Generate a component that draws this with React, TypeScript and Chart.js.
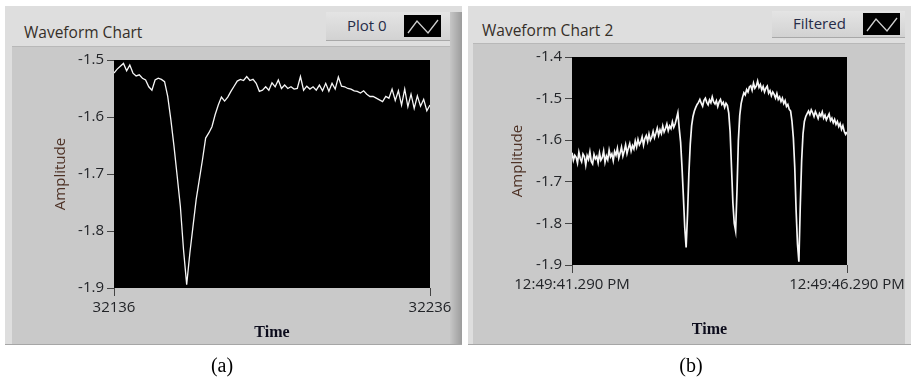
import React, { useEffect, useRef } from "react";
import { Chart, registerables } from "chart.js";

Chart.register(...registerables);

// ---------- data ----------
const titleA = "Waveform Chart";
const titleB = "Waveform Chart 2";
const legendA = "Plot 0";
const legendB = "Filtered";
const yAxisTitle = "Amplitude";
const xAxisTitle = "Time";
const captions = ["(a)", "(b)"];

const xStartA = 32136;
const xEndA = 32236;
const xTickLabelsA = ["32136", "32236"];
const yTicksA = [-1.9, -1.8, -1.7, -1.6, -1.5];
const valuesA = [
  -1.523, -1.516, -1.511, -1.506, -1.519, -1.509, -1.523, -1.528, -1.526, -1.532,
  -1.535, -1.547, -1.553, -1.535, -1.532, -1.534, -1.538, -1.564, -1.605, -1.652,
  -1.704, -1.757, -1.833, -1.894, -1.839, -1.792, -1.745, -1.71, -1.675, -1.637,
  -1.628, -1.617, -1.596, -1.579, -1.565, -1.572, -1.565, -1.555, -1.546, -1.537,
  -1.534, -1.536, -1.529, -1.536, -1.534, -1.541, -1.555, -1.553, -1.547, -1.553,
  -1.54, -1.547, -1.535, -1.55, -1.544, -1.55, -1.547, -1.551, -1.55, -1.529,
  -1.553, -1.546, -1.551, -1.547, -1.553, -1.544, -1.554, -1.541, -1.555, -1.541,
  -1.551, -1.53, -1.546, -1.547, -1.55, -1.551, -1.554, -1.555, -1.558, -1.554,
  -1.56, -1.564, -1.564, -1.567, -1.57, -1.573, -1.564, -1.567, -1.551, -1.571,
  -1.554, -1.579, -1.551, -1.582, -1.56, -1.585, -1.563, -1.581, -1.569, -1.589,
  -1.579,
];

const durationB = 5; // seconds between the two time ticks
const xTickLabelsB = ["12:49:41.290 PM", "12:49:46.290 PM"];
const yTicksB = [-1.9, -1.8, -1.7, -1.6, -1.5, -1.4];
const valuesB = [
  -1.63, -1.648, -1.636, -1.641, -1.655, -1.629, -1.644, -1.652, -1.633, -1.639,
  -1.66, -1.637, -1.646, -1.628, -1.651, -1.657, -1.634, -1.645, -1.639, -1.654,
  -1.631, -1.648, -1.642, -1.626, -1.653, -1.638, -1.647, -1.624, -1.64, -1.633,
  -1.649, -1.627, -1.636, -1.62, -1.643, -1.631, -1.617, -1.638, -1.626, -1.611,
  -1.632, -1.619, -1.608, -1.626, -1.613, -1.621, -1.602, -1.616, -1.598, -1.611,
  -1.604, -1.592, -1.612, -1.596, -1.589, -1.603, -1.585, -1.6, -1.593, -1.579,
  -1.594, -1.583, -1.571, -1.588, -1.575, -1.584, -1.566, -1.58, -1.572, -1.561,
  -1.577, -1.566, -1.572, -1.556, -1.569, -1.561, -1.548, -1.534, -1.572, -1.605,
  -1.665, -1.735, -1.81, -1.858, -1.78, -1.68, -1.61, -1.565, -1.543, -1.53,
  -1.521, -1.514, -1.509, -1.502, -1.511, -1.518, -1.504, -1.499, -1.509, -1.515,
  -1.503, -1.51, -1.496, -1.508, -1.513, -1.505, -1.519, -1.508, -1.502, -1.514,
  -1.509, -1.521, -1.511, -1.516, -1.535, -1.58, -1.665, -1.75, -1.8, -1.818,
  -1.72, -1.6, -1.54, -1.512, -1.497, -1.486, -1.491, -1.478, -1.484, -1.472,
  -1.469, -1.48, -1.463, -1.475, -1.47, -1.458, -1.473, -1.466, -1.479, -1.471,
  -1.484, -1.475, -1.47, -1.487, -1.481, -1.493, -1.484, -1.49, -1.499, -1.488,
  -1.502, -1.496, -1.507, -1.499, -1.512, -1.505, -1.519, -1.514, -1.526, -1.53,
  -1.555, -1.595, -1.665, -1.77, -1.85, -1.892, -1.76, -1.65, -1.585, -1.555,
  -1.543, -1.536, -1.53, -1.538, -1.527, -1.534, -1.543, -1.531, -1.539, -1.548,
  -1.536, -1.542, -1.532, -1.547, -1.54, -1.551, -1.544, -1.537, -1.553, -1.547,
  -1.558, -1.55, -1.562, -1.555, -1.567, -1.56, -1.574, -1.565, -1.579, -1.586,
  -1.58,
];

// ---------- chart helpers ----------
const W = 911;
const H = 379;
const SANS = "'Open Sans', 'Noto Sans', sans-serif";
const SERIF = "'Liberation Serif', 'DejaVu Serif', serif";

const blackArea = {
  id: "blackArea",
  beforeDraw(chart: any) {
    const { ctx, chartArea: a } = chart;
    ctx.save();
    ctx.fillStyle = "#000";
    ctx.fillRect(a.left, a.top, a.right - a.left, a.bottom - a.top);
    ctx.restore();
  },
};

function buildConfig(o: {
  points: { x: number; y: number }[];
  xMin: number;
  xMax: number;
  xLabels: string[];
  yTicks: number[];
  pad: { left: number; right: number; top: number; bottom: number };
  yWidth: number;
  xHeight: number;
  lineWidth: number;
}): any {
  const yMin = o.yTicks[0];
  const yMax = o.yTicks[o.yTicks.length - 1];
  return {
    type: "line",
    data: {
      datasets: [
        {
          data: o.points,
          borderColor: "#f6f6f6",
          borderWidth: o.lineWidth,
          pointRadius: 0,
          tension: 0,
          fill: false,
        },
      ],
    },
    plugins: [blackArea],
    options: {
      animation: false,
      responsive: false,
      events: [],
      layout: { padding: o.pad },
      plugins: { legend: { display: false }, tooltip: { enabled: false } },
      scales: {
        x: {
          type: "linear",
          min: o.xMin,
          max: o.xMax,
          afterBuildTicks: (s: any) => {
            s.ticks = [{ value: o.xMin }, { value: o.xMax }];
          },
          afterFit: (s: any) => {
            s.height = o.xHeight;
          },
          ticks: {
            autoSkip: false,
            maxRotation: 0,
            padding: 3,
            color: "#222428",
            font: { family: SANS, size: 15 },
            callback: (_v: any, i: number) => o.xLabels[i],
          },
          grid: { drawOnChartArea: false, drawTicks: true, tickLength: 8, color: "#444" },
          border: { display: false },
          title: {
            display: true,
            text: xAxisTitle,
            color: "#0c0c1c",
            padding: 0,
            font: { family: SERIF, size: 16, weight: "bold" },
          },
        },
        y: {
          type: "linear",
          min: yMin,
          max: yMax,
          afterBuildTicks: (s: any) => {
            s.ticks = o.yTicks.map((v) => ({ value: v }));
          },
          afterFit: (s: any) => {
            s.width = o.yWidth;
          },
          ticks: {
            padding: 3,
            color: "#222428",
            font: { family: SANS, size: 15 },
            callback: (v: any) => Number(v).toFixed(1),
          },
          grid: { drawOnChartArea: false, drawTicks: true, tickLength: 7, color: "#444" },
          border: { display: false },
          title: {
            display: true,
            text: yAxisTitle,
            color: "#4e3226",
            padding: 0,
            font: { family: SANS, size: 15 },
          },
        },
      },
    },
  };
}

// ---------- layout pieces ----------
const abs = (s: React.CSSProperties): React.CSSProperties => ({ position: "absolute", ...s });

function LegendIcon({ left, top }: { left: number; top: number }) {
  return (
    <svg style={abs({ left, top })} width={37} height={22}>
      <rect x={0} y={0} width={37} height={22} fill="#000" />
      <polyline points="4,18 13,6 24,18 34,5" fill="none" stroke="#d0d0d0" strokeWidth={1.3} />
    </svg>
  );
}

export default function App() {
  const refA = useRef<HTMLCanvasElement>(null);
  const refB = useRef<HTMLCanvasElement>(null);

  useEffect(() => {
    const ptsA = valuesA.map((y, i) => ({ x: xStartA + i, y }));
    const stepB = durationB / (valuesB.length - 1);
    const ptsB = valuesB.map((y, i) => ({ x: i * stepB, y }));

    const chartA = new Chart(
      refA.current as HTMLCanvasElement,
      buildConfig({
        points: ptsA,
        xMin: xStartA,
        xMax: xEndA,
        xLabels: xTickLabelsA,
        yTicks: yTicksA,
        pad: { left: 51.6, right: W - 430, top: 60, bottom: 36.4 },
        yWidth: 62.4,
        xHeight: 54.6,
        lineWidth: 1.3,
      })
    );
    const chartB = new Chart(
      refB.current as HTMLCanvasElement,
      buildConfig({
        points: ptsB,
        xMin: 0,
        xMax: durationB,
        xLabels: xTickLabelsB,
        yTicks: yTicksB,
        pad: { left: 508.6, right: W - 847, top: 57, bottom: 39.4 },
        yWidth: 63.4,
        xHeight: 74.6,
        lineWidth: 1.7,
      })
    );
    return () => {
      chartA.destroy();
      chartB.destroy();
    };
  }, []);

  const titleStyle: React.CSSProperties = {
    fontFamily: SANS,
    fontSize: 15.5,
    color: "#352e28",
    lineHeight: "20px",
    whiteSpace: "nowrap",
  };
  const legendText: React.CSSProperties = {
    fontFamily: SANS,
    fontSize: 15,
    color: "#262c48",
    lineHeight: "20px",
    whiteSpace: "nowrap",
  };
  const btnBg = "linear-gradient(#e4e4e4, #d2d2d2)";
  const captionStyle: React.CSSProperties = {
    width: 100,
    textAlign: "center",
    fontFamily: SERIF,
    fontSize: 20,
    lineHeight: "24px",
    color: "#000",
  };

  return (
    <div style={abs({ position: "fixed", left: 0, top: 0, width: W, height: H, background: "#fff", overflow: "hidden" })}>
      {/* Panel A */}
      <div style={abs({ left: 5, top: 6, width: 457, height: 338, background: "#dedede", borderBottom: "1px solid #a6a6a6" })} />
      <div style={abs({ left: 12, top: 46, width: 438, height: 297, background: "#c9c9c9", borderTop: "1px solid #b8b8b8" })} />
      <div style={abs({ left: 450, top: 12, width: 12, height: 332, background: "linear-gradient(to right, #c6c6c6, #9c9c9c)" })} />
      <div style={abs({ left: 24, top: 22, ...titleStyle })}>{titleA}</div>
      <div style={abs({ left: 326, top: 12, width: 124, height: 28, background: btnBg, borderBottom: "1px solid #a8a8a8" })} />
      <div style={abs({ left: 347, top: 15, ...legendText })}>{legendA}</div>
      <LegendIcon left={404} top={15} />

      {/* Panel B */}
      <div style={abs({ left: 468, top: 6, width: 443, height: 338, background: "#dedede", borderBottom: "1px solid #a6a6a6" })} />
      <div style={abs({ left: 473, top: 43, width: 432, height: 300, background: "#c9c9c9", borderTop: "1px solid #b8b8b8" })} />
      <div style={abs({ left: 482, top: 20, ...titleStyle })}>{titleB}</div>
      <div style={abs({ left: 772, top: 11, width: 133, height: 26, background: btnBg, borderBottom: "1px solid #a8a8a8" })} />
      <div style={abs({ left: 793, top: 13, ...legendText })}>{legendB}</div>
      <LegendIcon left={863} top={13} />

      {/* Charts */}
      <canvas ref={refA} width={W} height={H} style={abs({ left: 0, top: 0, width: W, height: H, pointerEvents: "none" })} />
      <canvas ref={refB} width={W} height={H} style={abs({ left: 0, top: 0, width: W, height: H, pointerEvents: "none" })} />

      {/* Captions */}
      <div style={abs({ left: 172, top: 353, ...captionStyle })}>{captions[0]}</div>
      <div style={abs({ left: 641, top: 353, ...captionStyle })}>{captions[1]}</div>
    </div>
  );
}
